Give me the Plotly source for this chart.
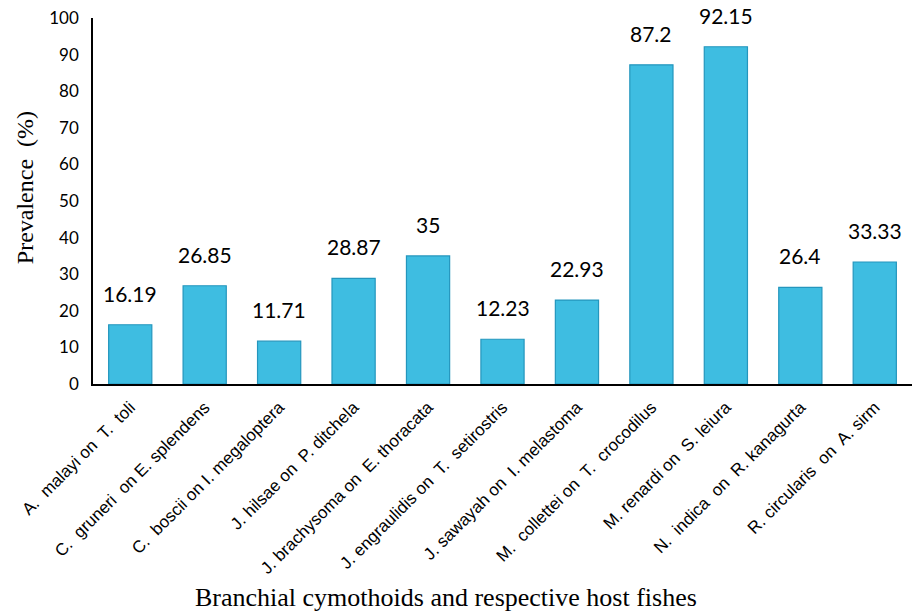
import plotly.graph_objects as go

categories = [
    "A.  malayi on  T.  toli",
    "C.  gruneri  on E. splendens",
    "C.  boscii on I. megaloptera",
    "J. hilsae on  P. ditchela",
    "J. brachysoma on  E. thoracata",
    "J. engraulidis on  T.  setirostris",
    "J. sawayah on  I. melastoma",
    "M.  collettei on  T.  crocodilus",
    "M. renardi on  S. leiura",
    "N.  indica  on  R. kanagurta",
    "R. circularis  on  A. sirm",
]
prevalence = [16.19, 26.85, 11.71, 28.87, 35, 12.23, 22.93, 87.2, 92.15, 26.4, 33.33]
value_labels = ["16.19", "26.85", "11.71", "28.87", "35", "12.23", "22.93", "87.2", "92.15", "26.4", "33.33"]
y_ticks = [0, 10, 20, 30, 40, 50, 60, 70, 80, 90, 100]

fig = go.Figure()
fig.add_trace(go.Bar(
    x=categories,
    y=prevalence,
    width=0.58,
    marker=dict(color="#3ebde1", line=dict(color="#2496bd", width=1.2)),
    hoverinfo="skip",
))

for c, v, t in zip(categories, prevalence, value_labels):
    fig.add_annotation(x=c, y=v, text=t, showarrow=False, yanchor="bottom", yshift=17,
                       font=dict(family="Lato", size=21, color="#000000"))

# axis titles
fig.add_annotation(xref="paper", yref="paper", x=0.431, y=0, yanchor="middle", yshift=-213,
                   text="Branchial cymothoids and respective host fishes", showarrow=False,
                   font=dict(family="Liberation Serif", size=26, color="#000000"))
fig.add_annotation(xref="paper", yref="paper", x=0, y=0.535, xanchor="center", xshift=-68,
                   textangle=-90, text="Prevalence  (%)", showarrow=False,
                   font=dict(family="Liberation Serif", size=24, color="#000000"))

fig.update_layout(
    width=920, height=613,
    margin=dict(l=93, r=8, t=18, b=229),
    plot_bgcolor="white", paper_bgcolor="white",
    showlegend=False,
)
fig.update_xaxes(
    automargin=False,
    tickvals=categories,
    ticktext=categories,
    tickangle=-45,
    tickfont=dict(family="Liberation Sans", size=17, color="#000000"),
    ticklabelstandoff=5,
    showline=True, linecolor="#000000", linewidth=1.5,
    ticks="", showgrid=False,
)
fig.update_yaxes(
    automargin=False,
    range=[0, 100],
    tickvals=y_ticks,
    tickfont=dict(family="Lato", size=17, color="#000000"),
    ticklabelstandoff=9,
    showline=True, linecolor="#000000", linewidth=1.5,
    ticks="", showgrid=False, zeroline=False,
)

fig.write_html("out.html", config={"displayModeBar": False},
               post_script="document.body.style.margin='0';")
